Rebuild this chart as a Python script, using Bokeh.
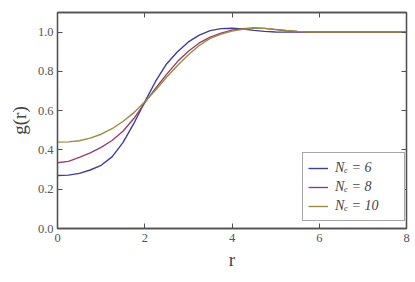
from bokeh.plotting import figure
from bokeh.models import LinearAxis, Legend, LegendItem, FixedTicker, Range1d
from bokeh.embed import file_html
from bokeh.resources import INLINE

r = [0, 0.25, 0.5, 0.75, 1.0, 1.25, 1.5, 1.75, 2.0, 2.25, 2.5, 2.75, 3.0, 3.25, 3.5,
     3.75, 4.0, 4.25, 4.5, 4.75, 5.0, 5.25, 5.5, 5.75, 6.0, 6.5, 7.0, 7.5, 8.0]
g_ne6 = [0.270, 0.272, 0.281, 0.298, 0.322, 0.365, 0.437, 0.535, 0.645, 0.75, 0.838, 0.90,
         0.95, 0.985, 1.008, 1.018, 1.02, 1.016, 1.009, 1.004, 1.001, 1.0, 1.0, 1.0, 1.0,
         1.0, 1.0, 1.0, 1.0]
g_ne8 = [0.335, 0.342, 0.362, 0.385, 0.413, 0.448, 0.495, 0.56, 0.64, 0.715, 0.785, 0.85,
         0.903, 0.945, 0.975, 0.995, 1.01, 1.018, 1.021, 1.019, 1.013, 1.007, 1.003, 1.001,
         1.0, 1.0, 1.0, 1.0, 1.0]
g_ne10 = [0.44, 0.441, 0.447, 0.46, 0.48, 0.508, 0.545, 0.59, 0.645, 0.705, 0.77, 0.83,
          0.885, 0.932, 0.968, 0.99, 1.005, 1.015, 1.02, 1.019, 1.014, 1.008, 1.004, 1.001,
          1.0, 1.0, 1.0, 1.0, 1.0]
labels = ["N\u2091 = 6", "N\u2091 = 8", "N\u2091 = 10"]
colors = ["#3F3D99", "#993D71", "#998D3D"]
x_ticks = [0, 2, 4, 6, 8]
y_ticks = [0.0, 0.2, 0.4, 0.6, 0.8, 1.0]

FONT = "Liberation Serif"
FRAME = "#505050"

p = figure(width=415, height=282, output_backend="svg", toolbar_location=None,
           x_range=Range1d(0, 8), y_range=Range1d(0, 1.1),
           min_border_left=57, min_border_right=9, min_border_top=12, min_border_bottom=54,
           x_axis_label="r", y_axis_label="g(r)")
p.grid.visible = False
p.outline_line_color = FRAME
p.outline_line_width = 1.3
p.background_fill_color = "white"
p.border_fill_color = "white"

renderers = []
for ys, c in zip([g_ne6, g_ne8, g_ne10], colors):
    renderers.append(p.line(r, ys, line_color=c, line_width=1.4))

def style(ax, ticks, nminor, show_labels):
    ax.ticker = FixedTicker(ticks=ticks, num_minor_ticks=nminor)
    ax.major_tick_in = 5
    ax.major_tick_out = 0
    ax.minor_tick_in = 3
    ax.minor_tick_out = 0
    ax.axis_line_color = FRAME
    ax.axis_line_width = 1.3
    ax.major_tick_line_color = FRAME
    ax.minor_tick_line_color = FRAME
    ax.major_label_text_font = FONT
    ax.major_label_text_font_size = "12.5px"
    ax.major_label_text_color = "#555555"
    if not show_labels:
        ax.major_label_text_font_size = "0px"
        ax.major_label_text_color = None
        ax.major_label_standoff = 0
        ax.axis_label_standoff = 0

xa = p.xaxis[0]
ya = p.yaxis[0]
style(xa, x_ticks, 4, True)
style(ya, y_ticks, 5, True)
xa.major_label_overrides = {t: str(t) for t in x_ticks}
ya.major_label_overrides = {t: f"{t:.1f}" for t in y_ticks}
xa.major_label_standoff = 5
ya.major_label_standoff = 4
xa.axis_label_text_font = FONT
xa.axis_label_text_font_size = "19px"
xa.axis_label_text_font_style = "normal"
xa.axis_label_standoff = 4
ya.axis_label_text_font = FONT
ya.axis_label_text_font_size = "19px"
ya.axis_label_text_font_style = "normal"
ya.axis_label_standoff = 5

top = LinearAxis()
right = LinearAxis()
style(top, x_ticks, 4, False)
style(right, y_ticks, 5, False)
p.add_layout(top, "above")
p.add_layout(right, "right")

legend = Legend(items=[LegendItem(label=l, renderers=[rr]) for l, rr in zip(labels, renderers)],
                location=(245, 7), margin=0, padding=5, spacing=0,
                glyph_width=20, glyph_height=18, label_height=19, label_width=64,
                label_standoff=7,
                label_text_font=FONT, label_text_font_size="14px",
                label_text_font_style="italic",
                border_line_color=FRAME, border_line_width=1,
                background_fill_alpha=1)
p.add_layout(legend, "center")

open("out.html", "w").write(file_html(p, INLINE))
